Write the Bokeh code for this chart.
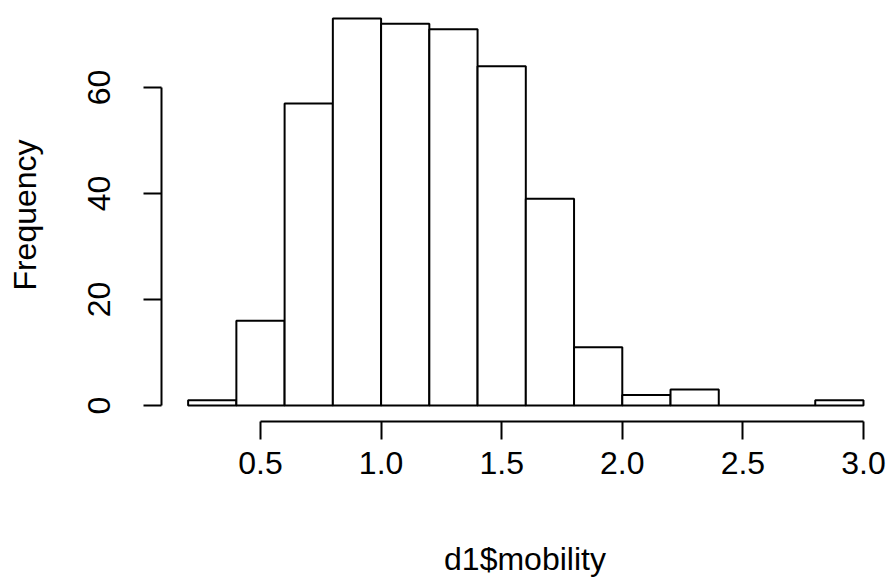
from bokeh.plotting import figure
from bokeh.models import FixedTicker, PrintfTickFormatter, Range1d, ColumnDataSource
from bokeh.embed import file_html
from bokeh.resources import INLINE

# Histogram data (bin edges every 0.2 from 0.2 to 3.0)
bin_left = [0.2, 0.4, 0.6, 0.8, 1.0, 1.2, 1.4, 1.6, 1.8, 2.0, 2.2, 2.4, 2.6, 2.8]
bin_right = [0.4, 0.6, 0.8, 1.0, 1.2, 1.4, 1.6, 1.8, 2.0, 2.2, 2.4, 2.6, 2.8, 3.0]
counts = [1, 16, 57, 73, 72, 71, 64, 39, 11, 2, 3, 0, 0, 1]
x_ticks = [0.5, 1.0, 1.5, 2.0, 2.5, 3.0]
y_ticks = [0, 20, 40, 60]

FONT = "Liberation Sans"
FS = "32px"

p = figure(width=888, height=579, output_backend="svg", toolbar_location=None,
           x_range=Range1d(0.0896, 3.1037), y_range=Range1d(-3.02, 74.9),
           min_border_left=161, min_border_right=0, min_border_top=8,
           min_border_bottom=158)

src = ColumnDataSource(dict(left=bin_left, right=bin_right, top=counts,
                            bottom=[0] * len(counts)))
p.quad(left="left", right="right", top="top", bottom="bottom", source=src,
       fill_color="white", line_color="black", line_width=2)

p.xgrid.visible = False
p.ygrid.visible = False
p.outline_line_color = None
p.background_fill_color = "white"
p.border_fill_color = "white"

xa = p.xaxis[0]
xa.ticker = FixedTicker(ticks=x_ticks)
xa.formatter = PrintfTickFormatter(format="%.1f")
xa.bounds = (0.5, 3.0)
xa.axis_label = "d1$mobility"
ya = p.yaxis[0]
ya.ticker = FixedTicker(ticks=y_ticks)
ya.bounds = (0, 60)
ya.axis_label = "Frequency"
ya.major_label_orientation = "vertical"

for ax in (xa, ya):
    ax.axis_line_color = "black"
    ax.axis_line_width = 2
    ax.major_tick_line_color = "black"
    ax.major_tick_line_width = 2
    ax.major_tick_out = 18
    ax.major_tick_in = 0
    ax.minor_tick_line_color = None
    ax.major_label_text_font = FONT
    ax.major_label_text_font_size = FS
    ax.major_label_text_color = "black"
    ax.axis_label_text_font = FONT
    ax.axis_label_text_font_size = FS
    ax.axis_label_text_font_style = "normal"
    ax.axis_label_text_color = "black"

xa.major_label_standoff = 12
xa.axis_label_standoff = 64
ya.major_label_standoff = 33
ya.axis_label_standoff = 43

open("out.html", "w").write(file_html(p, INLINE))
